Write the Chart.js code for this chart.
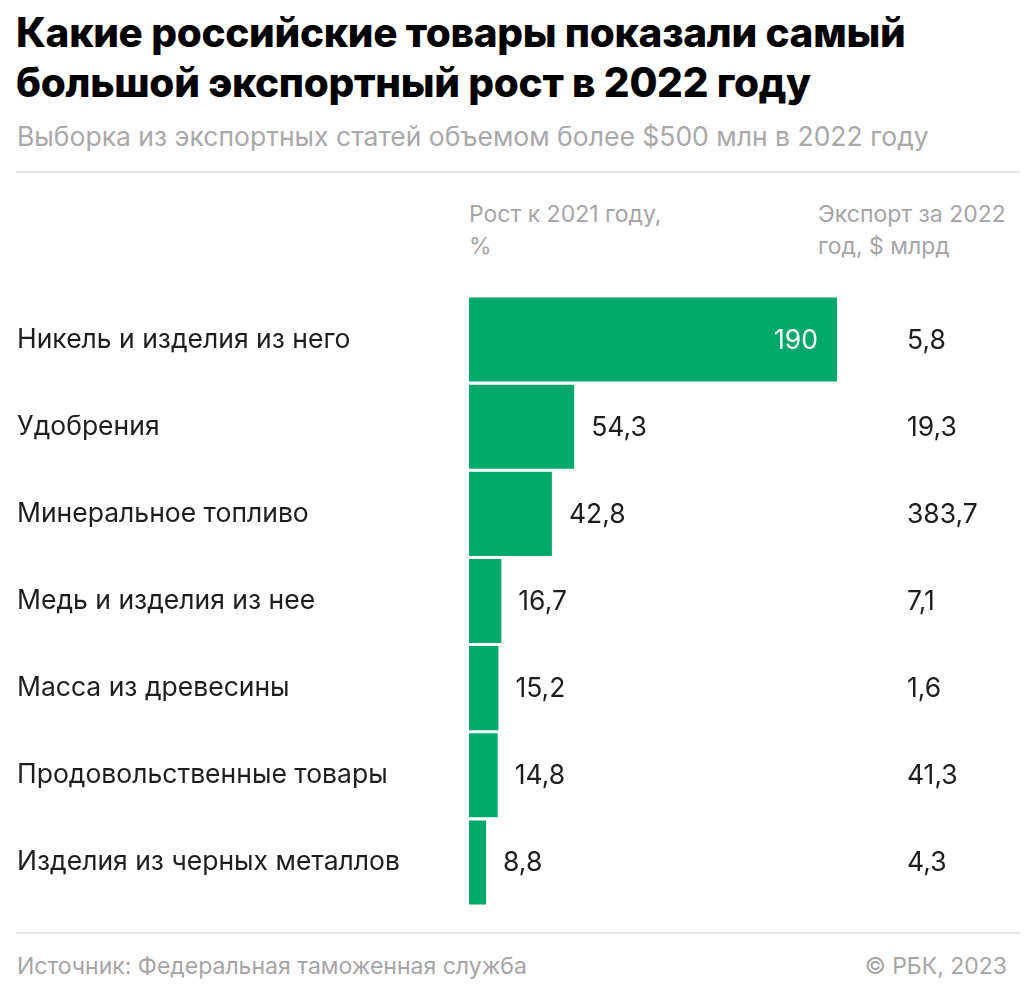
<!DOCTYPE html>
<html lang="ru">
<head>
<meta charset="utf-8">
<script src="https://cdn.jsdelivr.net/npm/chart.js@4"></script>
<style>
  body { margin: 0; background: #fff; font-family: Inter, sans-serif; }
  .page { position: relative; width: 1034px; height: 996px; overflow: hidden; }
  .t { position: absolute; white-space: nowrap; }
  #title { left: 16px; top: 8px; font-size: 40.5px; font-weight: 800; line-height: 50px; color: #000; letter-spacing: -0.3px; }
  #subtitle { left: 17px; top: 120px; font-size: 26.5px; color: #a9a9a9; }
  .rule { position: absolute; left: 16px; width: 1004px; height: 2px; background: #e8e8e8; }
  .head { font-size: 23px; line-height: 32px; color: #a5a5a5; }
  .foot { font-size: 23px; color: #a5a5a5; top: 952px; }
  #wrap { position: absolute; left: 0; top: 267px; width: 1034px; height: 668px; }
</style>
</head>
<body>
<div class="page">
  <div class="t" id="title">Какие российские товары показали самый<br>большой экспортный рост в 2022 году</div>
  <div class="t" id="subtitle">Выборка из экспортных статей объемом более $500 млн в 2022 году</div>
  <div class="rule" style="top:171px"></div>
  <div class="t head" style="left:469px; top:198px">Рост к 2021 году,<br>%</div>
  <div class="t head" style="left:818px; top:198px">Экспорт за 2022<br>год, $ млрд</div>
  <div id="wrap"><canvas id="grafico"></canvas></div>
  <div class="rule" style="top:932px"></div>
  <div class="t foot" style="left:17px">Источник: Федеральная таможенная служба</div>
  <div class="t foot" style="right:27px">© РБК, 2023</div>
</div>
<script>
const categorias = ['Никель и изделия из него', 'Удобрения', 'Минеральное топливо', 'Медь и изделия из нее', 'Масса из древесины', 'Продовольственные товары', 'Изделия из черных металлов'];
const crescimento = [190, 54.3, 42.8, 16.7, 15.2, 14.8, 8.8];
const exportacao = [5.8, 19.3, 383.7, 7.1, 1.6, 41.3, 4.3];

const fmt = v => String(v).replace('.', ',');

const rotulos = {
  id: 'rotulos',
  afterDatasetsDraw(chart) {
    const c = chart.ctx;
    const meta = chart.getDatasetMeta(0);
    c.save();
    c.font = '26.5px Inter';
    c.textBaseline = 'middle';
    meta.data.forEach((bar, i) => {
      const txt = fmt(crescimento[i]);
      if (bar.x - bar.base > 200) {
        c.fillStyle = '#ffffff';
        c.textAlign = 'right';
        c.fillText(txt, bar.x - 19, bar.y + 1);
      } else {
        c.fillStyle = '#1e1e1e';
        c.textAlign = 'left';
        c.fillText(txt, bar.x + 17, bar.y + 1);
      }
      c.fillStyle = '#1e1e1e';
      c.textAlign = 'left';
      c.fillText(fmt(exportacao[i]), 907, bar.y + 1);
    });
    c.restore();
  }
};

new Chart(document.getElementById('grafico'), {
  type: 'bar',
  data: {
    labels: categorias,
    datasets: [{
      data: crescimento,
      backgroundColor: '#03a86b',
      borderWidth: 0,
      barPercentage: 1,
      categoryPercentage: 0.965
    }]
  },
  options: {
    indexAxis: 'y',
    responsive: true,
    maintainAspectRatio: false,
    animation: false,
    layout: { padding: { left: 17, right: 197, top: 29, bottom: 29 } },
    plugins: { legend: { display: false }, tooltip: { enabled: false } },
    scales: {
      x: { display: false, min: 0, max: 190 },
      y: {
        grid: { display: false },
        border: { display: false },
        ticks: { crossAlign: 'far', color: '#1e1e1e', font: { family: 'Inter', size: 26.5 } },
        afterFit(scale) { scale.width = 452; }
      }
    }
  },
  plugins: [rotulos]
});
</script>
</body>
</html>
